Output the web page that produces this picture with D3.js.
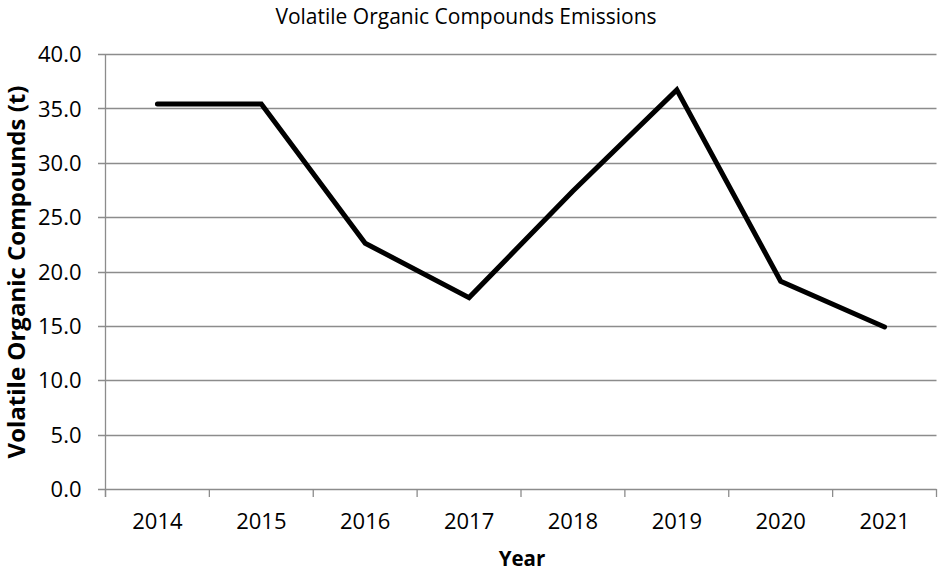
<!DOCTYPE html>
<html>
<head>
<meta charset="utf-8">
<script src="https://cdn.jsdelivr.net/npm/d3@7"></script>
<style>
  html, body { margin: 0; padding: 0; background: #fff; }
  svg { display: block; }
  text { font-family: "Open Sans", "Liberation Sans", sans-serif; fill: #000; }
</style>
</head>
<body>
<svg id="chart" width="938" height="571"></svg>
<script>
const years = ["2014", "2015", "2016", "2017", "2018", "2019", "2020", "2021"];
const vocValues = [35.4, 35.4, 22.6, 17.6, 27.4, 36.7, 19.1, 14.9];
const yTicks = [0, 5, 10, 15, 20, 25, 30, 35, 40];
const titleText = "Volatile Organic Compounds Emissions";
const xTitle = "Year";
const yTitle = "Volatile Organic Compounds (t)";

const svg = d3.select("#chart");
const m = { left: 105.5, right: 936.5, top: 54, bottom: 489 };

const x = d3.scaleBand().domain(years).range([m.left, m.right]).paddingInner(0).paddingOuter(0);
const y = d3.scaleLinear().domain([0, 40]).range([m.bottom, m.top]);

const gridColor = "#8c8c8c";

// gridlines
svg.append("g")
  .selectAll("line")
  .data(yTicks)
  .join("line")
  .attr("x1", m.left - 7.5)
  .attr("x2", m.right)
  .attr("y1", d => Math.round(y(d)) + 0.5)
  .attr("y2", d => Math.round(y(d)) + 0.5)
  .attr("stroke", gridColor)
  .attr("stroke-width", 1.3);

// y axis
const yAxis = d3.axisLeft(y).tickValues(yTicks).tickFormat(d3.format(".1f")).tickSize(0).tickPadding(0);
const gy = svg.append("g").attr("transform", `translate(${m.left},0)`).call(yAxis);
gy.select(".domain").remove();
gy.selectAll("text")
  .attr("x", -24)
  .attr("dy", "0.35em")
  .style("font-size", "22px")
  .style("font-family", "'Open Sans', sans-serif");

// vertical axis line
svg.append("line")
  .attr("x1", m.left).attr("x2", m.left)
  .attr("y1", m.top).attr("y2", m.bottom + 8)
  .attr("stroke", gridColor).attr("stroke-width", 1.3);

// x axis
const xAxis = d3.axisBottom(x).tickSize(0).tickPadding(0);
const gx = svg.append("g").attr("transform", `translate(0,${Math.round(m.bottom) + 0.5})`).call(xAxis);
gx.select(".domain").remove();
gx.selectAll("text")
  .attr("y", 24)
  .attr("dy", "0.71em")
  .style("font-size", "22px")
  .style("font-family", "'Open Sans', sans-serif");

// x ticks between categories
const boundaries = years.map(d => x(d)).concat([x(years[years.length - 1]) + x.bandwidth()]);
svg.append("g")
  .selectAll("line")
  .data(boundaries)
  .join("line")
  .attr("x1", d => d).attr("x2", d => d)
  .attr("y1", m.bottom).attr("y2", m.bottom + 8)
  .attr("stroke", gridColor).attr("stroke-width", 1.3);

// data line
const line = d3.line()
  .x((d, i) => x(years[i]) + x.bandwidth() / 2)
  .y(d => y(d));

svg.append("path")
  .datum(vocValues)
  .attr("d", line)
  .attr("fill", "none")
  .attr("stroke", "#000")
  .attr("stroke-width", 5)
  .attr("stroke-linecap", "round")
  .attr("stroke-linejoin", "miter");

// title
svg.append("text")
  .attr("x", 466)
  .attr("y", 23.5)
  .attr("text-anchor", "middle")
  .style("font-size", "21px")
  .text(titleText);

// x title
svg.append("text")
  .attr("x", 522)
  .attr("y", 566)
  .attr("text-anchor", "middle")
  .style("font-size", "20.5px")
  .style("font-weight", "bold")
  .text(xTitle);

// y title
svg.append("text")
  .attr("transform", "translate(25,272) rotate(-90)")
  .attr("text-anchor", "middle")
  .style("font-size", "24px")
  .style("font-weight", "bold")
  .text(yTitle);
</script>
</body>
</html>
